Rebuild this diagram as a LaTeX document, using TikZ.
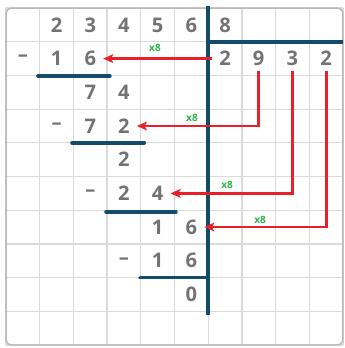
\documentclass[tikz,border=0pt]{standalone}
\usepackage{fontspec}
\setmainfont{Open Sans}
\usepackage{xcolor}
\usetikzlibrary{arrows.meta}
\definecolor{inkgray}{HTML}{737373}
\definecolor{gridgray}{HTML}{DADADA}
\definecolor{barblue}{HTML}{134B69}
\definecolor{arrred}{HTML}{E8202A}
\definecolor{mulgreen}{HTML}{2DB34A}

\begin{document}
\begin{tikzpicture}[
  dig/.style={inner sep=0pt, minimum width=7.5mm, minimum height=7.5mm,
              text=inkgray, font=\fontsize{17}{19}\selectfont\bfseries},
  mul/.style={inner sep=0pt, text=mulgreen, font=\fontsize{8.5}{9}\selectfont\bfseries},
  ul/.style={barblue, line width=3.2pt, line cap=round},
  ar/.style={arrred, line width=2.4pt, -{Stealth[length=3mm, width=2.6mm, inset=0.7mm]}}]
\useasboundingbox (-0.18,0.24) rectangle (10.06,-10.09);
\draw[gridgray, line width=1.1pt] (0,0) grid (10,-10);
\draw[gridgray!85!black, line width=1.2pt, rounded corners=5pt] (0,0) rectangle (10,-10);

% top row
\node[dig] (h2) at (1.5,-0.5) {2};
\node[dig] (h3) at (2.5,-0.5) {3};
\node[dig] (h4) at (3.5,-0.5) {4};
\node[dig] (h5) at (4.5,-0.5) {5};
\node[dig] (h6) at (5.5,-0.5) {6};
\node[dig] (dv) at (6.5,-0.5) {8};

% dividend
\node[dig] (r1) at (6.5,-1.5) {2};
\node[dig] (r2) at (7.5,-1.5) {9};
\node[dig] (r3) at (8.5,-1.5) {3};
\node[dig] (r4) at (9.5,-1.5) {2};

% working
\node[dig] (s1) at (0.5,-1.5) {–};
\node[dig] (a1) at (1.5,-1.5) {1};
\node[dig] (p1) at (2.5,-1.5) {6};
\node[dig] (b1) at (2.5,-2.5) {7};
\node[dig] (b2) at (3.5,-2.5) {4};
\node[dig] (s2) at (1.5,-3.5) {–};
\node[dig] (a2) at (2.5,-3.5) {7};
\node[dig] (p2) at (3.5,-3.5) {2};
\node[dig] (b3) at (3.5,-4.5) {2};
\node[dig] (s3) at (2.5,-5.5) {–};
\node[dig] (a3) at (3.5,-5.5) {2};
\node[dig] (p3) at (4.5,-5.5) {4};
\node[dig] (b4) at (4.5,-6.5) {1};
\node[dig] (p4) at (5.5,-6.5) {6};
\node[dig] (s4) at (3.5,-7.5) {–};
\node[dig] (a4) at (4.5,-7.5) {1};
\node[dig] (a5) at (5.5,-7.5) {6};
\node[dig] (z0) at (5.5,-8.5) {0};

% bars
\draw[barblue, line width=3.4pt] (6,0.06) -- (6,-9.1);
\draw[barblue, line width=3.4pt] (6,-1) -- (10,-1);
\draw[ul] (0.95,-2.02) -- (3.08,-2.02);
\draw[ul] (1.96,-4) -- (4.1,-4);
\draw[ul] (2.97,-6.05) -- (5.04,-6.05);
\draw[ul] (3.98,-8) -- (6,-8);

% products
\draw[ar] (r1) -- (p1);
\draw[ar] (r2) |- (p2);
\draw[ar] (r3) |- (p3);
\draw[ar] (r4) |- (p4);
\node[mul] (m1) at (4.42,-1.19) {x8};
\node[mul] (m2) at (5.52,-3.26) {x8};
\node[mul] (m3) at (6.56,-5.25) {x8};
\node[mul] (m4) at (7.54,-6.29) {x8};
\end{tikzpicture}
\end{document}
